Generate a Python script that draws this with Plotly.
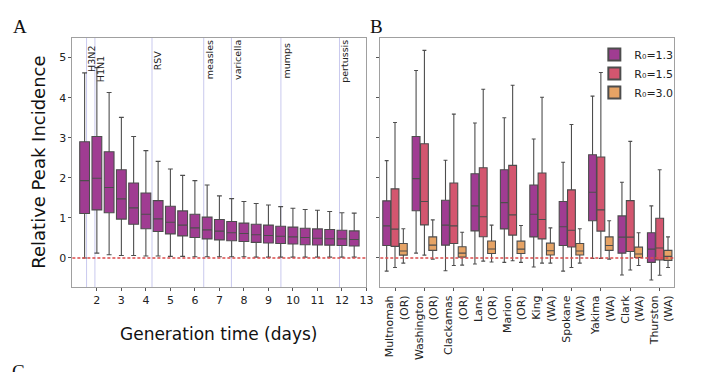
import plotly.graph_objects as go

# ---------------- Panel A data ----------------
gen_time = [1.5, 2.0, 2.5, 3.0, 3.5, 4.0, 4.5, 5.0, 5.5, 6.0, 6.5, 7.0, 7.5, 8.0,
            8.5, 9.0, 9.5, 10.0, 10.5, 11.0, 11.5, 12.0, 12.5]
a_upper = [4.62, 4.75, 4.13, 3.51, 3.03, 2.68, 2.41, 2.22, 2.06, 1.93, 1.82, 1.55, 1.48,
           1.41, 1.36, 1.32, 1.28, 1.24, 1.21, 1.19, 1.16, 1.13, 1.12]
a_q3 = [2.90, 3.03, 2.65, 2.20, 1.87, 1.62, 1.43, 1.29, 1.175, 1.09, 1.02, 0.96, 0.91,
        0.87, 0.84, 0.82, 0.79, 0.77, 0.74, 0.725, 0.71, 0.69, 0.675]
a_median = [1.93, 1.99, 1.76, 1.475, 1.25, 1.09, 0.975, 0.89, 0.82, 0.75, 0.70, 0.67, 0.63,
            0.61, 0.58, 0.56, 0.54, 0.525, 0.51, 0.49, 0.48, 0.475, 0.46]
a_q1 = [1.11, 1.20, 1.13, 0.97, 0.84, 0.73, 0.66, 0.60, 0.55, 0.51, 0.475, 0.45, 0.43,
        0.41, 0.39, 0.375, 0.36, 0.35, 0.33, 0.325, 0.32, 0.31, 0.30]
a_lower = [0.0, 0.12, 0.08, 0.06, 0.06, 0.05, 0.05, 0.04, 0.04, 0.03, 0.03, 0.03, 0.03,
           0.03, 0.02, 0.02, 0.02, 0.02, 0.02, 0.02, 0.02, 0.02, 0.02]

pathogens = ["H3N2", "H1N1", "RSV", "measles", "varicella", "mumps", "pertussis"]
pathogen_gt = [1.58, 1.92, 4.25, 6.36, 7.49, 9.51, 11.9]
pathogen_label_y = [4.97, 4.72, 4.92, 4.94, 4.94, 4.94, 4.92]

# ---------------- Panel B data ----------------
counties = ["Multnomah<br>(OR)", "Washington<br>(OR)", "Clackamas<br>(OR)", "Lane<br>(OR)",
            "Marion<br>(OR)", "King<br>(WA)", "Spokane<br>(WA)", "Yakima<br>(WA)",
            "Clark<br>(WA)", "Thurston<br>(WA)"]
r0_names = ["R₀=1.3", "R₀=1.5", "R₀=3.0"]
r0_colors = ["#a03c92", "#d3566f", "#e6a365"]

b_upper = [
    [2.43, 4.68, 2.44, 3.37, 3.50, 2.97, 2.39, 4.04, 1.89, 1.30],
    [3.38, 5.18, 3.59, 4.21, 4.31, 4.01, 3.33, 4.63, 2.91, 2.20],
    [0.73, 0.95, 0.64, 0.82, 0.81, 0.75, 0.73, 0.93, 0.63, 0.525],
]
b_q3 = [
    [1.425, 3.03, 1.44, 2.10, 2.20, 1.82, 1.41, 2.575, 1.05, 0.63],
    [1.725, 2.85, 1.87, 2.25, 2.31, 2.12, 1.70, 2.52, 1.43, 0.99],
    [0.36, 0.525, 0.28, 0.425, 0.42, 0.37, 0.36, 0.525, 0.27, 0.19],
]
b_median = [
    [0.80, 1.98, 0.82, 1.30, 1.38, 1.09, 0.78, 1.64, 0.52, 0.22],
    [0.72, 1.41, 0.80, 1.03, 1.075, 0.96, 0.69, 1.20, 0.52, 0.25],
    [0.175, 0.32, 0.12, 0.225, 0.22, 0.18, 0.175, 0.31, 0.10, 0.04],
]
b_q1 = [
    [0.31, 1.18, 0.32, 0.675, 0.725, 0.525, 0.31, 0.93, 0.12, -0.11],
    [0.29, 0.825, 0.36, 0.53, 0.57, 0.475, 0.275, 0.67, 0.16, -0.05],
    [0.07, 0.19, 0.02, 0.11, 0.11, 0.075, 0.075, 0.19, 0.01, -0.06],
]
b_lower = [
    [-0.33, 0.12, -0.32, -0.15, -0.11, -0.225, -0.33, -0.01, -0.425, -0.55],
    [-0.24, 0.07, -0.19, -0.08, -0.07, -0.13, -0.24, -0.01, -0.30, -0.43],
    [-0.13, -0.03, -0.18, -0.10, -0.11, -0.13, -0.13, -0.03, -0.19, -0.24],
]

# The page body has an 8px margin: the figure is drawn from (8, 8).
OFF = 8
W, H = 720 - OFF, 372 - OFF


def px(X):
    return (X - OFF) / W


def py(Y):
    return 1 - (Y - OFF) / H


edge = "#4d4d4d"
fig = go.Figure()

fig.add_trace(go.Box(
    x=gen_time, q1=a_q1, median=a_median, q3=a_q3,
    lowerfence=a_lower, upperfence=a_upper,
    width=0.4, fillcolor="#a03c92", line=dict(color=edge, width=1.1),
    whiskerwidth=0.5, showlegend=False, xaxis="x", yaxis="y", hoverinfo="skip",
))

for i in range(3):
    fig.add_trace(go.Box(
        x=counties, q1=b_q1[i], median=b_median[i], q3=b_q3[i],
        lowerfence=b_lower[i], upperfence=b_upper[i],
        name=r0_names[i], fillcolor=r0_colors[i], line=dict(color=edge, width=1.1),
        whiskerwidth=0.5, offsetgroup=str(i), xaxis="x2", yaxis="y2",
    ))

ydom = [py(287), py(38)]
yr = [-0.725, 5.49]
axis_line = "#a0a0a0"
tickfont = dict(family="DejaVu Sans", size=11, color="#222")

shapes = []
for gt in pathogen_gt:
    shapes.append(dict(type="line", xref="x", yref="y domain", x0=gt, x1=gt, y0=0, y1=1,
                       line=dict(color="#c9c9ee", width=1), layer="below"))
for xr in ["x domain", "x2 domain"]:
    shapes.append(dict(type="line", xref=xr, yref="y", x0=0, x1=1, y0=0, y1=0,
                       line=dict(color="#dc4b4b", width=1.4, dash="3px,2px"), layer="above"))

annotations = []
for name, gt, ly in zip(pathogens, pathogen_gt, pathogen_label_y):
    annotations.append(dict(x=gt, y=ly, xref="x", yref="y", text=name, showarrow=False,
                            textangle=-90, xanchor="left", yanchor="middle", xshift=-1,
                            borderpad=0,
                            font=dict(family="DejaVu Sans", size=9.5, color="#222")))
annotations += [
    dict(x=px(11), y=py(26), xref="paper", yref="paper", text="A", showarrow=False,
         xanchor="left", yanchor="middle", font=dict(family="Liberation Serif", size=19, color="#111")),
    dict(x=px(372), y=py(26), xref="paper", yref="paper", text="B", showarrow=False,
         xanchor="left", yanchor="middle", font=dict(family="Liberation Serif", size=19, color="#111")),
    dict(x=px(10), y=py(359), xref="paper", yref="paper", text="C", showarrow=False,
         xanchor="left", yanchor="top", font=dict(family="Liberation Serif", size=19, color="#111")),
    dict(x=px(38), y=py(162), xref="paper", yref="paper", text="Relative Peak Incidence",
         showarrow=False, textangle=-90, xanchor="center", yanchor="middle",
         font=dict(family="DejaVu Sans", size=18, color="#111")),
    dict(x=px(221), y=py(334), xref="paper", yref="paper", text="Generation time (days)",
         showarrow=False, xanchor="center", yanchor="middle",
         font=dict(family="DejaVu Sans", size=17, color="#111")),
]

fig.update_layout(
    width=W, height=H, margin=dict(l=0, r=0, t=0, b=0),
    paper_bgcolor="white", plot_bgcolor="white",
    boxmode="group", boxgap=0.15, boxgroupgap=0.06,
    xaxis=dict(domain=[px(73), px(370)], range=[1.0, 13.0], tickvals=list(range(2, 14)),
               showgrid=False, zeroline=False, showline=True, mirror=True, linecolor=axis_line,
               ticks="outside", ticklen=3, tickcolor="#555", tickfont=tickfont, anchor="y"),
    yaxis=dict(domain=ydom, range=yr, tickvals=[0, 1, 2, 3, 4, 5], showgrid=False, zeroline=False,
               showline=True, mirror=True, linecolor=axis_line, ticks="outside", ticklen=3,
               tickcolor="#555", tickfont=tickfont, anchor="x"),
    xaxis2=dict(domain=[px(384), px(681)], range=[-0.5, 9.5], showgrid=False, zeroline=False,
                showline=True, mirror=True, linecolor=axis_line, ticks="outside", ticklen=3,
                tickcolor="#555", tickangle=-90, tickfont=tickfont, anchor="y2",
                ticklabelshift=2),
    yaxis2=dict(domain=ydom, range=yr, matches="y", tickvals=[0, 1, 2, 3, 4, 5], showticklabels=False,
                showgrid=False, zeroline=False, showline=True, mirror=True, linecolor=axis_line,
                ticks="outside", ticklen=3, tickcolor="#555", anchor="x2"),
    legend=dict(x=px(685), y=py(40), xanchor="right", yanchor="top",
                bgcolor="rgba(255,255,255,0)", font=dict(family="DejaVu Sans", size=11, color="#222"),
                itemsizing="constant", tracegroupgap=0),
    shapes=shapes, annotations=annotations,
)

fig.write_html("out.html")
